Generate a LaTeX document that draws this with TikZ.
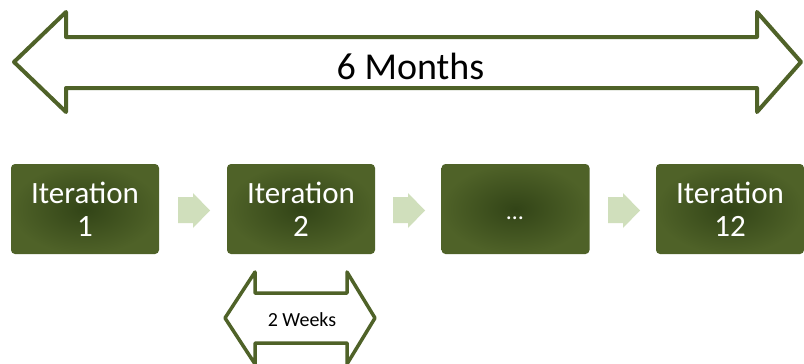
\documentclass[tikz,border=0pt]{standalone}
\usepackage{fontspec}
\setmainfont{Carlito}
\usetikzlibrary{positioning}
\definecolor{olive}{HTML}{4F6228}
\definecolor{olivedark}{HTML}{324417}
\definecolor{chev}{HTML}{D0DFBC}
\tikzset{
  span/.style={draw=olive, line width=4pt, line join=round, fill=white},
  iterbox/.style={rounded corners=4pt, minimum width=148pt, minimum height=90pt,
    inner color=olivedark, outer color=olive, text=white, align=center,
    font=\fontsize{31}{33}\selectfont},
  chevron/.style={fill=chev},
}
\begin{document}
\begin{tikzpicture}[x=1pt,y=-1pt]
\useasboundingbox (0,0) rectangle (804,364);
\fill[white] (0,0) rectangle (804,364);

% six-month span arrow
\path[span] (14,62) -- (66,12) -- (66,37) -- (757,37) -- (757,12) -- (801,62)
  -- (757,112) -- (757,88) -- (66,88) -- (66,112) -- cycle;
\node (months) at (410.5,66) {\fontsize{38}{40}\selectfont 6 Months};

% iterations
\node[iterbox] (it1) at (85,209) {Iteration\\1};
\node[iterbox] (it2) at (301,209) {Iteration\\2};
\node[iterbox] (it3) at (515.5,209) {};
\node[iterbox] (it4) at (730,209) {Iteration\\12};
\node[text=white, font=\fontsize{24}{26}\selectfont, anchor=base] (dots) at (515,219) {\dots};

% chevrons between iterations
\foreach \x in {178,393,608}{
  \path[chevron] (\x,197) -- (\x+15,197) -- (\x+15,193) -- (\x+32,210.5)
    -- (\x+15,228) -- (\x+15,223) -- (\x,223) -- cycle;
}

% two-week span arrow
\path[span, line width=3.5pt] (225,318) -- (255,272) -- (255,293) -- (347,293) -- (347,272)
  -- (375,318) -- (347,364) -- (347,343) -- (255,343) -- (255,364) -- cycle;
\node (weeks) at (302,320) {\fontsize{20}{22}\selectfont 2 Weeks};
\end{tikzpicture}
\end{document}
